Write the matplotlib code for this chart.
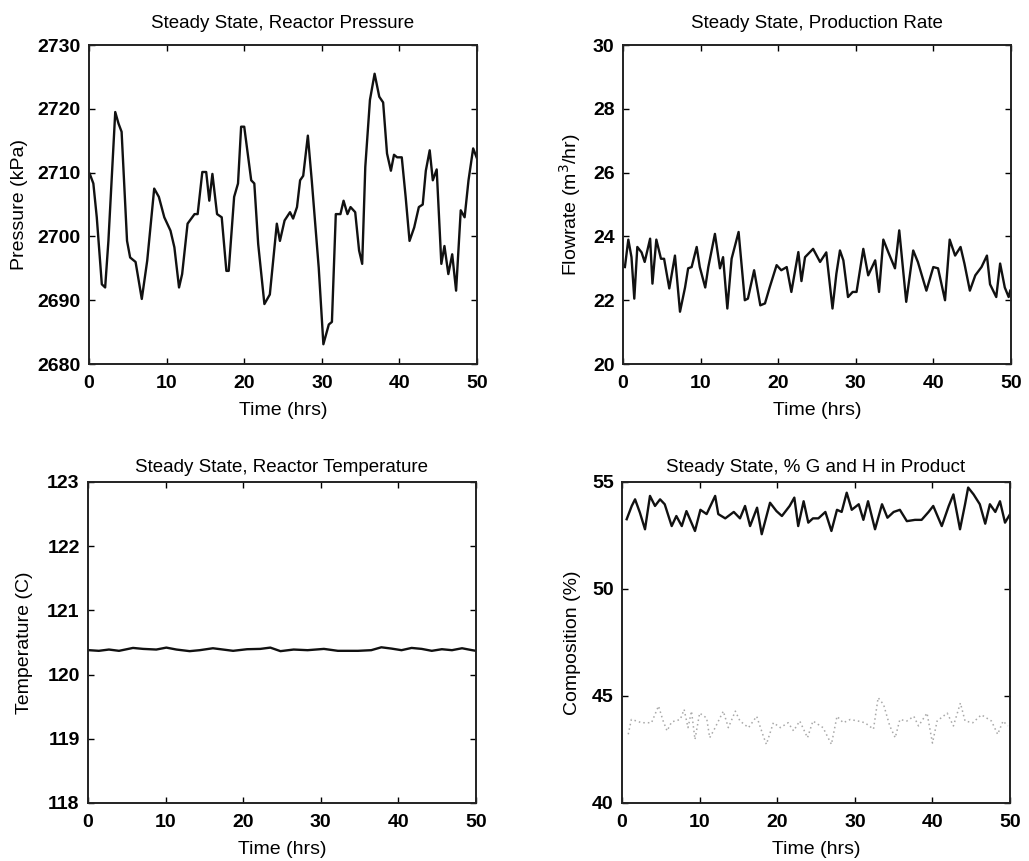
import numpy as np
import matplotlib
matplotlib.use("Agg")
import matplotlib.pyplot as plt

plt.rcParams['font.family'] = ['Liberation Sans', 'DejaVu Sans']

# ---- Reactor pressure (kPa) ----
pressure_t = [0.1, 0.56, 1.0, 1.65, 2.08, 2.5, 3.38, 3.8, 4.2, 4.9, 5.3, 6.0, 6.8, 7.5,
              8.4, 9.0, 9.7, 10.5, 11.0, 11.6, 12.0, 12.7, 13.6, 14.0, 14.6, 15.1, 15.5,
              15.9, 16.5, 17.1, 17.7, 18.0, 18.7, 19.2, 19.6, 20.0, 20.9, 21.3, 21.8, 22.6,
              23.3, 24.2, 24.6, 25.2, 25.9, 26.3, 26.8, 27.2, 27.6, 28.2, 28.7, 29.6, 30.2,
              30.9, 31.3, 31.8, 32.4, 32.8, 33.3, 33.7, 34.3, 34.8, 35.2, 35.6, 36.2, 36.8,
              37.4, 37.9, 38.4, 38.9, 39.3, 39.7, 40.3, 40.8, 41.3, 41.9, 42.5, 43.0, 43.4,
              43.9, 44.3, 44.8, 45.4, 45.8, 46.3, 46.8, 47.3, 47.9, 48.4, 48.9, 49.5, 50.0]
pressure = [2709.8, 2708.3, 2703.0, 2692.5, 2692.0, 2699.3, 2719.5, 2717.7, 2716.4, 2699.3,
            2696.7, 2696.0, 2690.2, 2696.2, 2707.5, 2706.2, 2703.0, 2700.9, 2698.3, 2692.0,
            2694.1, 2702.0, 2703.5, 2703.5, 2710.1, 2710.1, 2705.6, 2709.8, 2703.5, 2703.0,
            2694.6, 2694.6, 2706.2, 2708.3, 2717.2, 2717.2, 2708.8, 2708.3, 2698.8, 2689.4,
            2690.9, 2702.0, 2699.3, 2702.5, 2703.8, 2702.8, 2704.6, 2708.8, 2709.5, 2715.8,
            2708.8, 2695.1, 2683.1, 2686.2, 2686.6, 2703.5, 2703.5, 2705.6, 2703.5, 2704.6,
            2703.8, 2697.8, 2695.7, 2710.9, 2721.4, 2725.5, 2721.9, 2721.0, 2713.0, 2710.3,
            2712.8, 2712.4, 2712.4, 2706.2, 2699.3, 2701.4, 2704.6, 2705.0, 2710.3, 2713.5,
            2708.8, 2710.5, 2695.7, 2698.5, 2694.1, 2697.2, 2691.5, 2704.1, 2703.0, 2708.8,
            2713.8, 2712.2]

# ---- Production rate (m^3/hr) ----
flow_t = [0.25, 0.69, 1.1, 1.46, 1.85, 2.4, 2.8, 3.5, 3.8, 4.3, 4.9, 5.3, 5.97, 6.7, 7.35,
          8.0, 8.4, 8.85, 9.5, 9.9, 10.6, 11.0, 11.85, 12.5, 12.9, 13.45, 14.0, 14.9, 15.7,
          16.1, 16.9, 17.7, 18.3, 18.9, 19.8, 20.4, 21.1, 21.7, 22.6, 23.0, 23.46, 24.5,
          25.4, 26.2, 27.0, 27.5, 27.96, 28.4, 29.0, 29.6, 30.1, 30.97, 31.6, 32.5, 33.0,
          33.55, 34.2, 35.05, 35.6, 36.5, 37.4, 38.0, 39.1, 39.99, 40.6, 41.5, 42.1, 42.8,
          43.5, 44.0, 44.7, 45.4, 46.2, 46.9, 47.3, 48.1, 48.6, 49.2, 49.7, 49.9]
flow = [23.04, 23.9, 23.35, 22.05, 23.67, 23.5, 23.2, 23.93, 22.52, 23.9, 23.3, 23.3, 22.37,
        23.4, 21.64, 22.4, 23.0, 23.04, 23.67, 23.04, 22.4, 23.04, 24.08, 23.0, 23.35, 21.74,
        23.3, 24.14, 22.0, 22.05, 22.94, 21.84, 21.9, 22.4, 23.1, 22.94, 23.04, 22.26, 23.51,
        22.6, 23.35, 23.61, 23.2, 23.5, 21.74, 22.83, 23.56, 23.25, 22.1, 22.26, 22.26,
        23.61, 22.78, 23.25, 22.26, 23.9, 23.5, 23.0, 24.19, 21.95, 23.56, 23.2, 22.3, 23.04,
        23.0, 22.0, 23.9, 23.4, 23.67, 23.15, 22.3, 22.78, 23.04, 23.4, 22.5, 22.1, 23.15,
        22.4, 22.1, 22.3]

# ---- Reactor temperature (C) ----
temp_t = [0.13, 1.4, 2.7, 4.0, 5.8, 7.1, 8.8, 10.1, 11.4, 13.1, 14.4, 16.1, 17.4, 18.7,
          20.5, 22.2, 23.5, 24.8, 26.5, 28.3, 30.4, 32.2, 34.8, 36.5, 37.8, 39.1, 40.4,
          41.7, 43.0, 44.3, 45.6, 46.9, 48.2, 49.5, 50.0]
temp = [120.38, 120.37, 120.39, 120.37, 120.415, 120.40, 120.39, 120.42, 120.39, 120.365,
        120.38, 120.41, 120.39, 120.37, 120.395, 120.40, 120.42, 120.365, 120.39, 120.38,
        120.40, 120.37, 120.37, 120.38, 120.425, 120.405, 120.38, 120.415, 120.40, 120.37,
        120.395, 120.38, 120.41, 120.38, 120.37]

# ---- Composition (%) ----
comp_t = [0.6, 1.25, 1.68, 2.3, 2.96, 3.6, 4.25, 4.9, 5.5, 6.4, 7.0, 7.7, 8.3, 9.4, 10.1,
          10.9, 12.0, 12.4, 13.3, 14.4, 15.2, 15.85, 16.5, 17.4, 18.0, 19.07, 19.9, 20.6,
          21.6, 22.2, 22.7, 23.4, 24.0, 24.6, 25.3, 26.2, 26.98, 27.7, 28.3, 28.95, 29.6,
          30.5, 31.1, 31.7, 32.6, 33.5, 34.2, 35.0, 35.8, 36.7, 37.75, 38.6, 39.5, 40.1,
          41.2, 42.1, 42.7, 43.55, 44.2, 44.6, 45.3, 46.1, 46.8, 47.4, 48.1, 48.7, 49.35, 50.0]
comp_gh = [53.26, 53.88, 54.19, 53.57, 52.79, 54.35, 53.88, 54.19, 53.96, 52.94, 53.41,
           52.94, 53.64, 52.71, 53.7, 53.5, 54.35, 53.5, 53.3, 53.6, 53.3, 53.88, 52.94,
           53.8, 52.56, 54.03, 53.64, 53.41, 53.88, 54.27, 52.94, 54.1, 53.1, 53.3, 53.3,
           53.6, 52.71, 53.7, 53.6, 54.5, 53.7, 53.96, 53.23, 54.1, 52.79, 53.96, 53.33,
           53.6, 53.7, 53.17, 53.23, 53.23, 53.6, 53.88, 52.94, 53.88, 54.42, 52.79, 53.96,
           54.74, 54.42, 53.96, 53.05, 53.96, 53.6, 54.1, 53.1, 53.5]

comp2_t = [0.8, 1.2, 1.9, 2.5, 3.8, 4.7, 5.3, 5.8, 6.4, 7.5, 8.0, 8.5, 8.95, 9.4, 10.0,
           10.9, 11.3, 11.9, 13.05, 13.7, 14.6, 15.2, 16.3, 17.35, 18.2, 18.6, 19.5, 20.4,
           21.4, 22.1, 22.9, 23.9, 24.6, 25.9, 26.98, 27.7, 28.5, 29.4, 30.4, 31.3, 32.4,
           33.0, 33.7, 34.5, 35.2, 35.8, 36.7, 37.6, 38.2, 39.3, 40.0, 40.6, 41.9, 42.7,
           43.6, 44.2, 45.2, 46.3, 47.6, 48.4, 49.1, 49.7]
comp2 = [43.21, 43.9, 43.83, 43.75, 43.75, 44.53, 43.83, 43.37, 43.79, 43.9, 44.37, 43.52,
         44.29, 42.97, 44.2, 43.97, 43.05, 43.45, 44.29, 43.52, 44.29, 43.83, 43.52, 44.05,
         43.13, 42.74, 43.75, 43.52, 43.75, 43.37, 43.83, 43.05, 43.83, 43.52, 42.74, 44.05,
         43.75, 43.9, 43.83, 43.75, 43.45, 44.92, 44.6, 43.6, 43.05, 43.9, 43.83, 44.05,
         43.6, 44.2, 42.8, 43.83, 44.2, 43.6, 44.67, 43.83, 43.75, 44.12, 43.83, 43.21,
         43.83, 43.6]

x_ticks = [0, 10, 20, 30, 40, 50]

fig = plt.figure(figsize=(10.29, 8.61), dpi=100)
fig.patch.set_facecolor('white')

ax_p = fig.add_axes([0.0865, 0.5772, 0.3771, 0.3705])
ax_f = fig.add_axes([0.6054, 0.5772, 0.3771, 0.3705])
ax_t = fig.add_axes([0.0855, 0.0674, 0.3771, 0.3728])
ax_c = fig.add_axes([0.6045, 0.0674, 0.3771, 0.3728])

line_kw = dict(color='#111111', lw=1.7)
ax_p.plot(pressure_t, pressure, **line_kw)
ax_f.plot(flow_t, flow, **line_kw)
ax_t.plot(temp_t, temp, **line_kw)
ax_c.plot(comp_t, comp_gh, **line_kw)
ax_c.plot(comp2_t, comp2, color='#a8a8a8', lw=1.1, ls=(0, (1, 2)))

specs = [
    (ax_p, 'Steady State, Reactor Pressure', 'Pressure (kPa)', (2680, 2730),
     np.arange(2680, 2731, 10), 12, 7),
    (ax_f, 'Steady State, Production Rate', 'Flowrate (m$^3$/hr)', (20, 30),
     np.arange(20, 31, 2), 12, 7),
    (ax_t, 'Steady State, Reactor Temperature', 'Temperature (C)', (118, 123),
     np.arange(118, 124, 1), 7, 10),
    (ax_c, 'Steady State, % G and H in Product', 'Composition (%)', (40, 55),
     [40, 45, 50, 55], 7, 8),
]

for ax, title, ylabel, ylim, yticks, tpad, ylpad in specs:
    ax.set_xlim(0, 50)
    ax.set_ylim(*ylim)
    ax.set_xticks(x_ticks)
    ax.set_yticks(yticks)
    ax.set_title(title, fontsize=13.5, pad=tpad)
    ax.set_xlabel('Time (hrs)', fontsize=14, labelpad=7)
    ax.set_ylabel(ylabel, fontsize=14, labelpad=ylpad)
    ax.tick_params(direction='in', top=True, right=True, length=4, width=1.0,
                   labelsize=14)
    ax.tick_params(axis='x', pad=8)
    ax.tick_params(axis='y', pad=6)
    for lbl in ax.get_xticklabels() + ax.get_yticklabels():
        lbl.set_fontweight('bold')
    for s in ax.spines.values():
        s.set_linewidth(1.4)
        s.set_color('#222222')

fig.savefig('out.png', dpi=100, facecolor='white')
